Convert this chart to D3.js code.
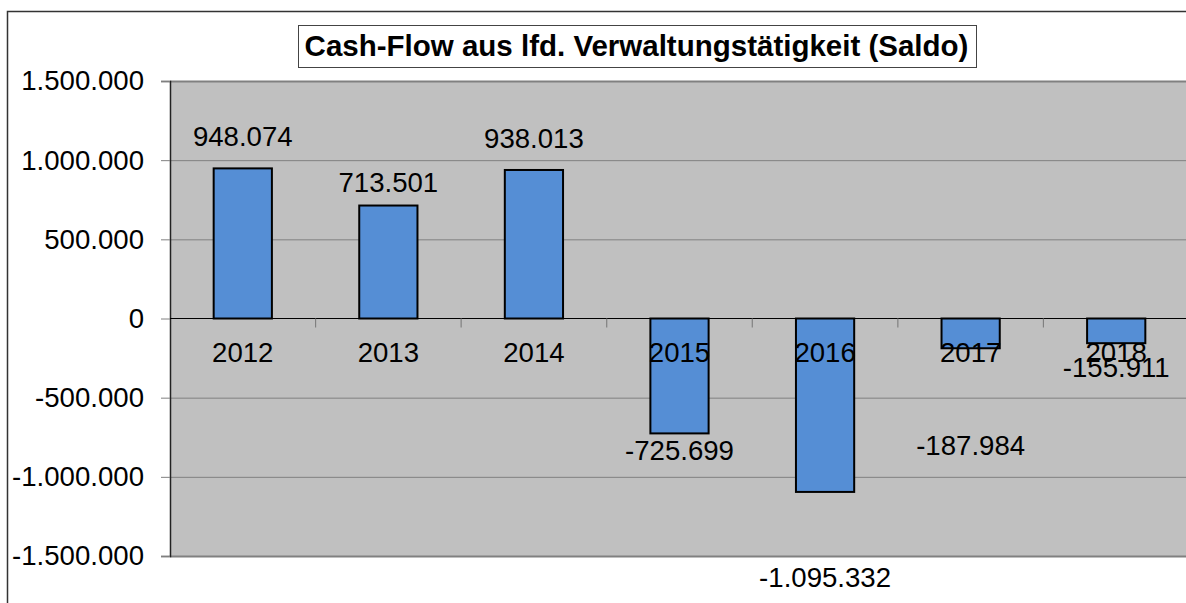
<!DOCTYPE html>
<html>
<head>
<meta charset="utf-8">
<script src="https://cdn.jsdelivr.net/npm/d3@7"></script>
<style>
  body { margin: 0; background: #fff; }
  svg { display: block; font-family: "Liberation Sans", Arial, sans-serif; }
</style>
</head>
<body>
<svg id="chart"></svg>
<script>
"use strict";

// ---- data ----
const years = ["2012", "2013", "2014", "2015", "2016", "2017", "2018"];
const saldo = [948074, 713501, 938013, -725699, -1095332, -187984, -155911];
const yTicks = [-1500000, -1000000, -500000, 0, 500000, 1000000, 1500000];
const title = "Cash-Flow aus lfd. Verwaltungstätigkeit (Saldo)";

// hand-placed data labels in the original (baseline distance from bar end, px)
const labelShift = [-22, -14, -22, 27, 95, 107, 34];

// ---- layout ----
const W = 1186, H = 603;
const plot = { left: 170, top: 81, right: 1189, bottom: 556 };
const fontSize = "27.6px";

const svg = d3.select("#chart").attr("width", W).attr("height", H);

// de-DE style number format: 1.500.000
const fmt = d3.formatLocale({ decimal: ",", thousands: ".", grouping: [3], currency: ["", " €"], minus: "-" }).format(",d");

const x = d3.scaleBand()
  .domain(years)
  .range([plot.left, plot.right])
  .paddingInner(0.6)
  .paddingOuter(0.3);

const y = d3.scaleLinear()
  .domain([-1500000, 1500000])
  .range([plot.bottom, plot.top]);

// outer chart border
svg.append("rect")
  .attr("x", 7.5).attr("y", 11.5)
  .attr("width", W).attr("height", H)
  .attr("fill", "#fff").attr("stroke", "#333").attr("stroke-width", 1.5);

// plot area
svg.append("rect")
  .attr("x", plot.left).attr("y", plot.top)
  .attr("width", plot.right - plot.left).attr("height", plot.bottom - plot.top)
  .attr("fill", "#c0c0c0");

// gridlines
svg.append("g")
  .selectAll("line")
  .data(yTicks.filter(d => d !== 0))
  .join("line")
  .attr("x1", plot.left).attr("x2", plot.right)
  .attr("y1", d => y(d) + 0.5).attr("y2", d => y(d) + 0.5)
  .attr("stroke", "#808080")
  .attr("stroke-width", d => Math.abs(d) === 1500000 ? 2 : 1);

// y axis
const yAxis = d3.axisLeft(y)
  .tickValues(yTicks)
  .tickFormat(fmt)
  .tickSize(9)
  .tickPadding(17);

const ya = svg.append("g")
  .attr("transform", `translate(${plot.left},0)`)
  .call(yAxis);
ya.select(".domain").attr("stroke", "#222").attr("stroke-width", 1.5);
ya.selectAll(".tick line").attr("stroke", "#808080");
ya.selectAll(".tick text")
  .attr("fill", "#000")
  .style("font-size", fontSize);

// bars
svg.append("g")
  .selectAll("rect")
  .data(years)
  .join("rect")
  .attr("x", d => x(d))
  .attr("width", x.bandwidth())
  .attr("y", (d, i) => y(Math.max(0, saldo[i])))
  .attr("height", (d, i) => Math.abs(y(saldo[i]) - y(0)))
  .attr("fill", "#558ed5")
  .attr("stroke", "#000")
  .attr("stroke-width", 2);

// zero line with category ticks
svg.append("line")
  .attr("x1", plot.left).attr("x2", plot.right)
  .attr("y1", y(0)).attr("y2", y(0))
  .attr("stroke", "#000").attr("stroke-width", 1.2);

svg.append("g")
  .selectAll("line")
  .data(years.slice(1))
  .join("line")
  .attr("x1", d => x(d) - x.step() * 0.3)
  .attr("x2", d => x(d) - x.step() * 0.3)
  .attr("y1", y(0)).attr("y2", y(0) + 9)
  .attr("stroke", "#808080").attr("stroke-width", 1.2);

// category labels
svg.append("g")
  .selectAll("text")
  .data(years)
  .join("text")
  .attr("x", d => x(d) + x.bandwidth() / 2)
  .attr("y", y(0) + 43)
  .attr("text-anchor", "middle")
  .style("font-size", fontSize)
  .text(d => d);

// data labels
svg.append("g")
  .selectAll("text")
  .data(years)
  .join("text")
  .attr("x", d => x(d) + x.bandwidth() / 2)
  .attr("y", (d, i) => y(saldo[i]) + labelShift[i])
  .attr("text-anchor", "middle")
  .style("font-size", fontSize)
  .text((d, i) => fmt(saldo[i]));

// title box
const titleG = svg.append("g");
const tBox = titleG.append("rect")
  .attr("fill", "#fff").attr("stroke", "#444").attr("stroke-width", 1);
const tText = titleG.append("text")
  .attr("x", 636.5).attr("y", 56)
  .attr("text-anchor", "middle")
  .style("font-size", "29.5px")
  .style("font-weight", "bold")
  .text(title);
const bb = tText.node().getBBox();
tBox.attr("x", Math.round(bb.x - 7) + 0.5).attr("y", 25.5)
  .attr("width", Math.round(bb.width + 14)).attr("height", 42);
</script>
</body>
</html>
